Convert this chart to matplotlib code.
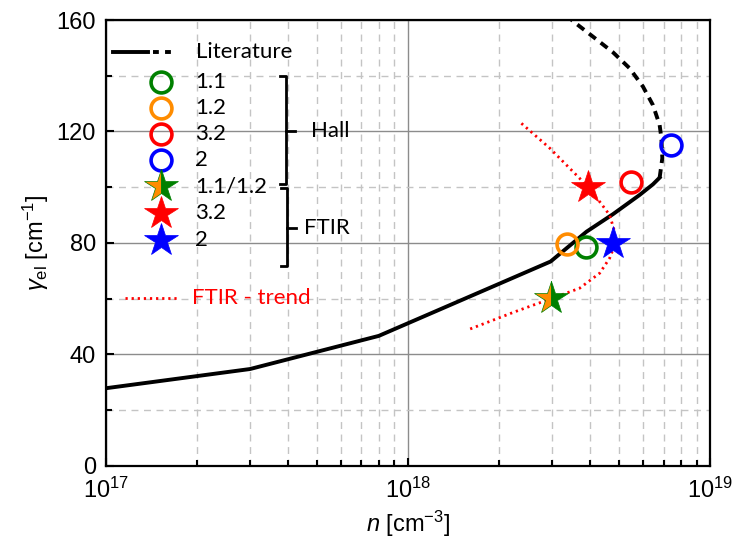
import numpy as np
import matplotlib
matplotlib.use("Agg")
import matplotlib.pyplot as plt
from matplotlib.ticker import LogLocator, MultipleLocator
from matplotlib import font_manager

# --- data ---
lit_solid_n = [1e17, 3e17, 8e17, 2.96e18, 3.89e18, 4.76e18, 5.83e18, 6.45e18, 6.79e18]
lit_solid_g = [27.8, 34.7, 46.6, 73.3, 84.0, 90.3, 97.2, 101.0, 103.4]
lit_dash_n = [6.79e18, 6.93e18, 6.88e18, 6.79e18, 6.45e18, 5.98e18, 5.40e18, 4.76e18, 4.09e18, 3.47e18]
lit_dash_g = [103.4, 110.4, 117.6, 122.3, 129.5, 136.1, 142.7, 148.4, 154.0, 160.0]

trend_n = [2.37e18, 2.94e18, 3.69e18, 4.30e18, 4.64e18, 4.82e18, 4.82e18, 4.64e18,
           4.30e18, 3.69e18, 2.96e18, 2.26e18, 1.57e18]
trend_g = [122.9, 114.0, 103.2, 94.8, 90.0, 84.0, 79.2, 74.5, 69.1, 63.7, 59.9, 55.3, 48.7]

hall_labels = ["1.1", "1.2", "3.2", "2"]
hall_colors = ["green", "darkorange", "red", "blue"]
hall_n = [3.89e18, 3.36e18, 5.45e18, 7.41e18]
hall_g = [78.6, 79.5, 101.8, 115.2]

ftir_labels = ["1.1/1.2", "3.2", "2"]
ftir_n = [2.96e18, 3.93e18, 4.76e18]
ftir_g = [60.3, 100.2, 79.9]

names = {f.name for f in font_manager.fontManager.ttflist}
narrow = "Liberation Sans Narrow" if "Liberation Sans Narrow" in names else "Liberation Sans"

plt.rcParams["font.family"] = [narrow, "DejaVu Sans"]
plt.rcParams["mathtext.fontset"] = "custom"
plt.rcParams["mathtext.rm"] = narrow
plt.rcParams["mathtext.it"] = "Liberation Sans:italic"

fig = plt.figure(figsize=(7.32, 5.41), dpi=100)
ax = fig.add_axes([0.1444, 0.1392, 0.8262, 0.8238])

ax.set_xscale("log")
ax.set_xlim(1e17, 1e19)
ax.set_ylim(0, 160)
ax.yaxis.set_major_locator(MultipleLocator(40))
ax.yaxis.set_minor_locator(MultipleLocator(20))
ax.xaxis.set_minor_locator(LogLocator(base=10, subs=np.arange(2, 10)))

ax.grid(which="major", color="#8c8c8c", lw=1.0, ls="-")
ax.grid(which="minor", color="#c4c4c4", lw=1.0, ls=(0, (5, 4)))
ax.set_axisbelow(True)

ax.tick_params(which="both", direction="in", top=False, right=False, width=1.5, labelsize=17)
ax.tick_params(which="major", length=6)
ax.tick_params(which="minor", length=4)
ax.tick_params(axis="x", which="major", pad=9)
ax.tick_params(axis="y", which="major", pad=7)
for s in ax.spines.values():
    s.set_linewidth(1.6)

# literature
ax.plot(lit_solid_n, lit_solid_g, color="black", lw=2.8, solid_joinstyle="round", zorder=3)
ax.plot(lit_dash_n, lit_dash_g, color="black", lw=2.8, ls=(0, (2.2, 1.6)), zorder=3)

# trend
ax.plot(trend_n, trend_g, color="red", lw=2.0, ls=(0, (0.8, 1.4)), zorder=3)

# hall circles
for n, g, c in zip(hall_n, hall_g, hall_colors):
    ax.plot(n, g, "o", ms=15, mfc="none", mec=c, mew=2.6, zorder=4)

# ftir stars
ax.plot(ftir_n[0], ftir_g[0], "*", ms=25, fillstyle="left", mfc="darkorange",
        mfcalt="green", mec="green", mew=0.5, zorder=5)
ax.plot(ftir_n[1], ftir_g[1], "*", ms=25, color="red", mec="red", mew=0.5, zorder=5)
ax.plot(ftir_n[2], ftir_g[2], "*", ms=25, color="blue", mec="blue", mew=0.5, zorder=5)

# --- hand-made legend in axes fraction ---
T = ax.transAxes
lfont = dict(family=["Lato", "DejaVu Sans"], fontsize=16, va="center", transform=T)
ax.plot([0.012, 0.070], [0.928, 0.928], color="black", lw=2.8, transform=T, clip_on=False, zorder=6)
ax.plot([0.079, 0.117], [0.928, 0.928], color="black", lw=2.8, ls=(0, (1.5, 1.6)), transform=T,
        clip_on=False, zorder=6)
ax.text(0.149, 0.928, "Literature", **lfont)

hall_y = [0.861, 0.802, 0.744, 0.686]
for y, c, lab in zip(hall_y, hall_colors, hall_labels):
    ax.plot(0.0914, y, "o", ms=15, mfc="none", mec=c, mew=2.6, transform=T, clip_on=False, zorder=6)
    ax.text(0.1476, y, lab, **lfont)

star_y = [0.627, 0.567, 0.506]
ax.plot(0.0914, star_y[0], "*", ms=25, fillstyle="left", mfc="darkorange", mfcalt="green",
        mec="green", mew=0.5, transform=T, clip_on=False, zorder=6)
ax.plot(0.0914, star_y[1], "*", ms=25, color="red", mec="red", mew=0.5, transform=T, clip_on=False, zorder=6)
ax.plot(0.0914, star_y[2], "*", ms=25, color="blue", mec="blue", mew=0.5, transform=T, clip_on=False, zorder=6)
for y, lab in zip(star_y, ftir_labels):
    ax.text(0.1476, y, lab, **lfont)

ax.plot([0.032, 0.1195], [0.376, 0.376], color="red", lw=2.0, ls=(0, (0.8, 1.4)), transform=T, zorder=6)
ax.text(0.1426, 0.376, "FTIR - trend", color="red", **lfont)

# brackets
ax.plot([0.288, 0.298, 0.298, 0.288], [0.874, 0.874, 0.632, 0.632], color="black", lw=2.0, transform=T, zorder=6)
ax.plot([0.298, 0.313], [0.751, 0.751], color="black", lw=2.0, transform=T, zorder=6)
ax.text(0.339, 0.751, "Hall", **lfont)
ax.plot([0.290, 0.300, 0.300, 0.290], [0.623, 0.623, 0.448, 0.448], color="black", lw=2.0, transform=T, zorder=6)
ax.plot([0.300, 0.315], [0.533, 0.533], color="black", lw=2.0, transform=T, zorder=6)
ax.text(0.328, 0.533, "FTIR", **lfont)

ax.set_xlabel(r"$\mathit{n}$ [cm$^{-3}$]", fontsize=17, labelpad=4)
ax.set_ylabel(r"$\mathit{\gamma}_{\mathrm{el}}$ [cm$^{-1}$]", fontsize=17, labelpad=4)

fig.savefig("out.png", dpi=100)
